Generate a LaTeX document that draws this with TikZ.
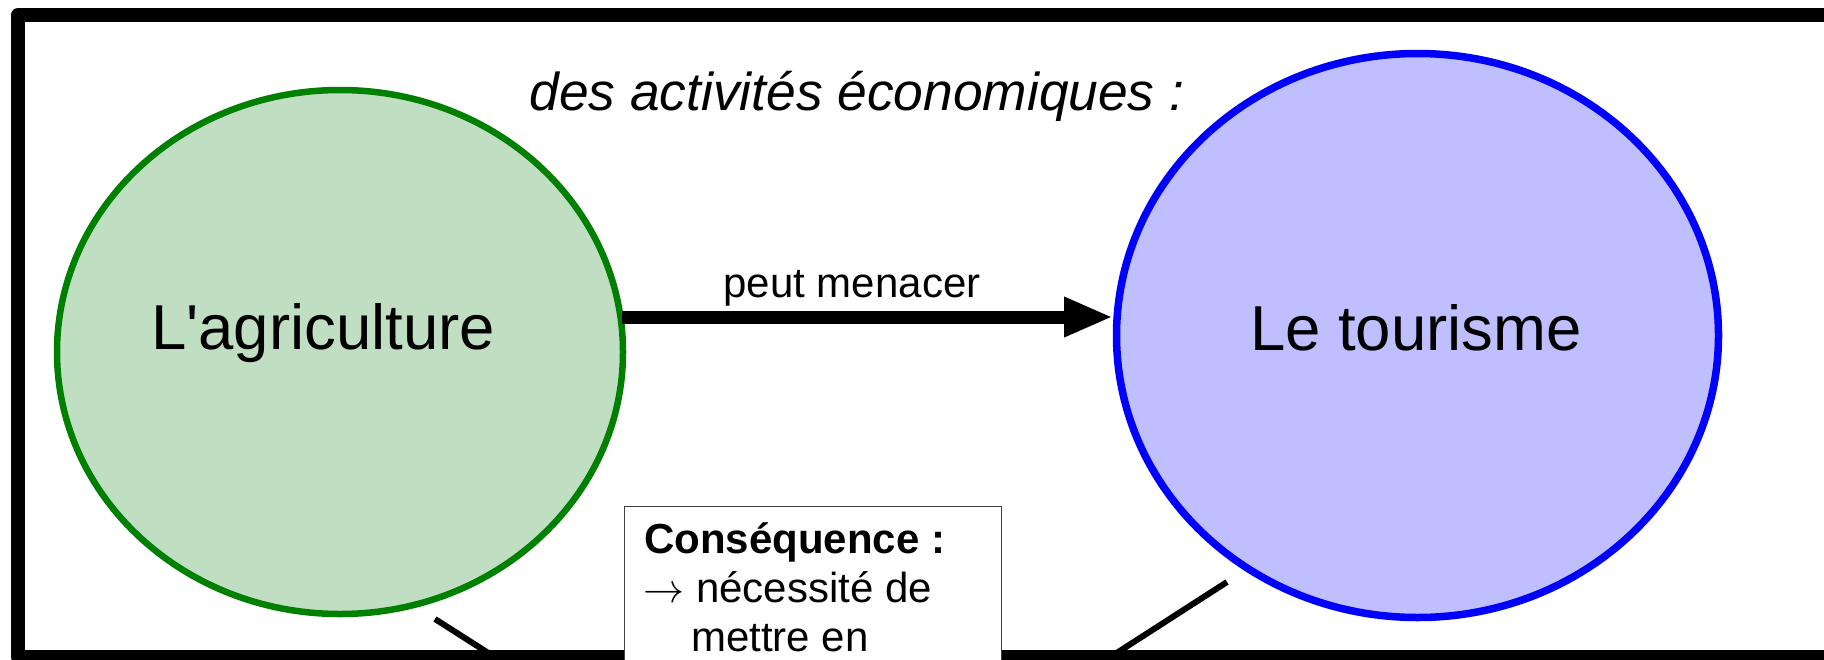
\documentclass[tikz,border=0pt]{standalone}
\usepackage{graphicx}
\usepackage{fontspec}
\setmainfont{Liberation Sans}
\usetikzlibrary{arrows.meta,shapes.geometric}
\definecolor{agrline}{HTML}{008000}
\definecolor{agrfill}{HTML}{C0DFC2}
\definecolor{tourline}{HTML}{0000FF}
\definecolor{tourfill}{HTML}{BFBFFF}
\newcommand{\thinarrow}{{\fontsize{10}{12}\selectfont\scalebox{4.1}{$\rightarrow$}}}
\tikzset{
  bigoval/.style={ellipse, inner sep=0pt},
  biglabel/.style={anchor=base, inner sep=0pt, font=\fontsize{63.5}{76}\selectfont},
  boxtext/.style={anchor=base west, inner sep=0pt, font=\fontsize{42}{49}\selectfont},
  link/.style={line width=6pt, line cap=butt},
}
\begin{document}
\begin{tikzpicture}[x=1pt,y=-1pt]
\useasboundingbox (0,0) rectangle (1824,659);
\begin{scope}
\clip (0,0) rectangle (1824,659);
% ellipses
\node[bigoval, draw=agrline, fill=agrfill, line width=6.5pt,
      minimum width=566pt, minimum height=524pt] (agri) at (340,352) {};
\node[bigoval, draw=tourline, fill=tourfill, line width=7.5pt,
      minimum width=602pt, minimum height=564pt] (tour) at (1417.5,335.5) {};
\node[biglabel] (agrilabel) at (323,349) {L\textquotesingle agriculture};
\node[biglabel] (tourlabel) at (1416,350) {Le tourisme};
% title
\node[anchor=base, inner sep=0pt, font=\itshape\fontsize{53.3}{64}\selectfont] (title) at (857,110) {des activités économiques :};
% arrow
\coordinate (a1) at (622,317);
\coordinate (a2) at (1113,317);
\draw[line width=13pt, -{Triangle[length=49pt,width=37pt]}] (a1) -- (a2);
\node[anchor=base, inner sep=0pt, font=\fontsize{42}{50}\selectfont] (menace) at (852,297) {peut menacer};
% links
\coordinate (l1s) at (435,619);
\coordinate (l1e) at (493,656);
\coordinate (l2s) at (1227,582);
\coordinate (l2e) at (1112,656);
\draw[link] (l1s) -- (l1e);
\draw[link] (l2s) -- (l2e);
% frame
\draw[line width=14pt, line join=round] (18,657) -- (18,15) -- (1900,15) -- (1900,657) -- cycle;
% consequence box
\node[draw=black!75, line width=1pt, fill=white, minimum width=377pt, minimum height=200pt,
      anchor=north west, inner sep=0pt] (cons) at (624,506) {};
\node[boxtext, font=\bfseries\fontsize{42}{49}\selectfont] (c1) at (644,553) {Conséquence :};
\node[boxtext] (c2) at (643,602) {\makebox[53pt][l]{\thinarrow}nécessité de};
\node[boxtext] (c3) at (691,651) {mettre en};
\end{scope}
\end{tikzpicture}
\end{document}
